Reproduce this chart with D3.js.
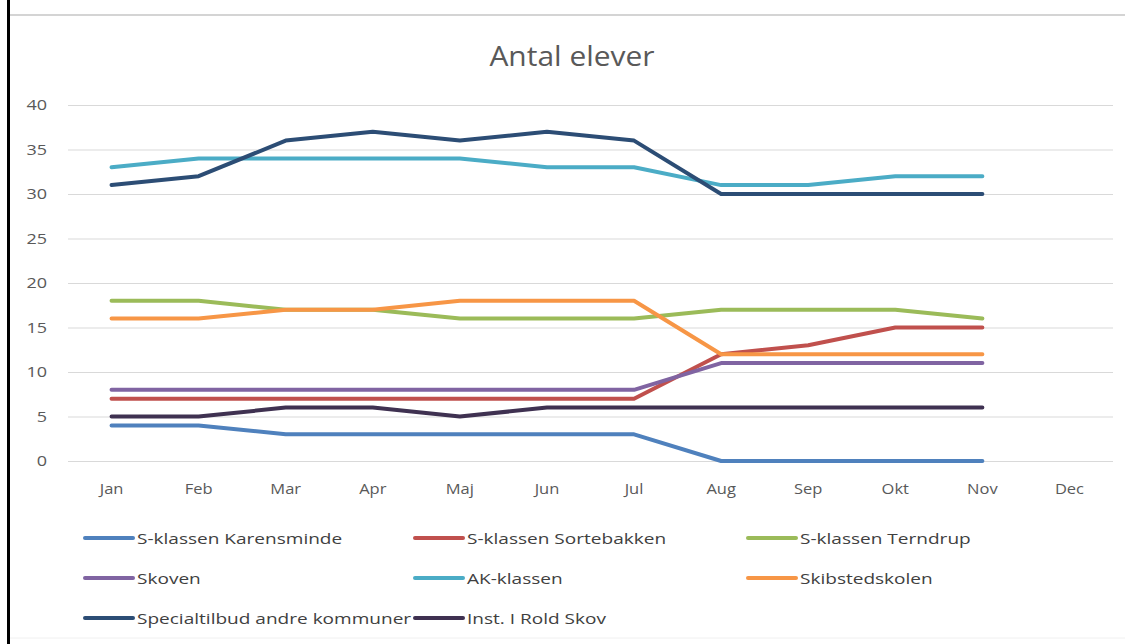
<!DOCTYPE html>
<html><head><meta charset="utf-8">
<script src="https://cdn.jsdelivr.net/npm/d3@7/dist/d3.min.js"></script>
<style>html,body{margin:0;padding:0;background:#fff;}svg{display:block;}</style>
</head><body>
<script>
const months = ["Jan","Feb","Mar","Apr","Maj","Jun","Jul","Aug","Sep","Okt","Nov","Dec"];
const yTicks = [0,5,10,15,20,25,30,35,40];
const seriesNames = ["S-klassen Karensminde","S-klassen Sortebakken","S-klassen Terndrup","Skoven","AK-klassen","Skibstedskolen","Specialtilbud andre kommuner","Inst. I Rold Skov"];
const karensminde = [4,4,3,3,3,3,3,0,0,0,0];
const sortebakken = [7,7,7,7,7,7,7,12,13,15,15];
const terndrup    = [18,18,17,17,16,16,16,17,17,17,16];
const skoven      = [8,8,8,8,8,8,8,11,11,11,11];
const akKlassen   = [33,34,34,34,34,33,33,31,31,32,32];
const skibsted    = [16,16,17,17,18,18,18,12,12,12,12];
const specialtilbud = [31,32,36,37,36,37,36,30,30,30,30];
const roldSkov    = [5,5,6,6,5,6,6,6,6,6,6];
const colors = ["#4F81BD","#C0504D","#9BBB59","#8064A2","#4BACC6","#F79646","#2C4D75","#3F3151"];
const seriesValues = [karensminde,sortebakken,terndrup,skoven,akKlassen,skibsted,specialtilbud,roldSkov];

(function(){
const W=1125,H=644;
const svg=d3.select("body").append("svg").attr("width",W).attr("height",H);
svg.append("line").attr("x1",10).attr("x2",W).attr("y1",15).attr("y2",15).attr("stroke","#d4d4d4").attr("stroke-width",2);
svg.append("line").attr("x1",10).attr("x2",W).attr("y1",638).attr("y2",638).attr("stroke","#f0f0f0").attr("stroke-width",1);
svg.append("line").attr("x1",8.5).attr("x2",8.5).attr("y1",0).attr("y2",H).attr("stroke","#000").attr("stroke-width",3);

const pL=68,pR=1113,pT=105,pB=461;
const x=d3.scaleBand().domain(months).range([pL,pR]);
const y=d3.scaleLinear().domain([0,40]).range([pB,pT]);
const font="'Open Sans', sans-serif";

svg.append("text").attr("transform","translate(572,66) scale(1.07,1)").attr("text-anchor","middle")
  .attr("font-family",font).attr("font-size",28).attr("fill","#595959").text("Antal elever");

const sy=1.2;
const yAxis=d3.axisLeft(y).tickValues(yTicks).tickSize(-(pR-pL)).tickPadding(21);
const gy=svg.append("g").attr("transform",`translate(${pL},0)`).call(yAxis);
gy.select(".domain").remove();
gy.selectAll(".tick line").attr("stroke","#d9d9d9").attr("stroke-width",1);
gy.selectAll(".tick text").attr("font-family",font).attr("font-size",15).attr("fill","#595959")
  .attr("x",-21/sy).attr("transform",`scale(${sy},1)`);

const sx=1.1;
const xAxis=d3.axisBottom(x).tickSize(0).tickPadding(22);
const gx=svg.append("g").attr("transform",`translate(0,${pB})`).call(xAxis);
gx.select(".domain").remove();
gx.selectAll(".tick text").attr("font-family",font).attr("font-size",15).attr("fill","#595959")
  .attr("transform",`scale(${sx},1)`);

const line=d3.line().x((d,i)=>x(months[i])+x.bandwidth()/2).y(d=>y(d));
seriesValues.forEach((vals,k)=>{
  svg.append("path").datum(vals).attr("d",line).attr("fill","none")
    .attr("stroke",colors[k]).attr("stroke-width",4).attr("stroke-linecap","round").attr("stroke-linejoin","round");
});

const colX=[85,415,748], rowY=[538,578,618];
seriesNames.forEach((name,k)=>{
  const cx=colX[k%3], cy=rowY[Math.floor(k/3)];
  svg.append("line").attr("x1",cx).attr("x2",cx+48).attr("y1",cy).attr("y2",cy)
    .attr("stroke",colors[k]).attr("stroke-width",4).attr("stroke-linecap","round");
  svg.append("text").attr("transform",`translate(${cx+52},${cy+5.5}) scale(1.27,1)`)
    .attr("font-family",font).attr("font-size",15).attr("fill","#404040").text(name);
});
})();
</script>
</body></html>
